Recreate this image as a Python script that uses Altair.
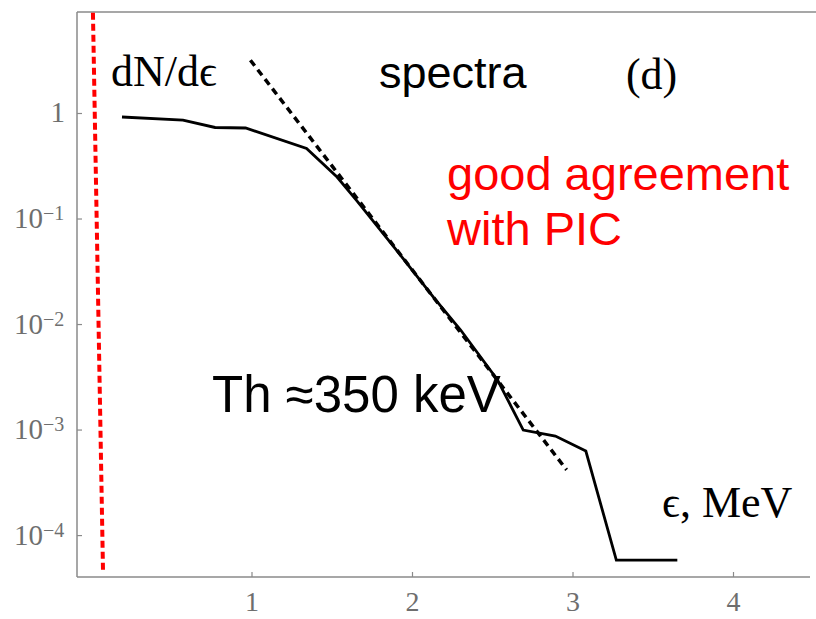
import altair as alt
import pandas as pd

# ---- data ----
energy = [0.19, 0.57, 0.77, 0.96, 1.34, 1.53, 1.65, 1.90, 2.13, 2.30, 2.53, 2.69, 2.89, 3.08, 3.27, 3.65]
dnde = [0.926, 0.867, 0.737, 0.729, 0.466, 0.250, 0.151, 0.0508, 0.0182, 0.00887,
        0.00298, 0.00100, 0.000877, 0.000632, 5.86e-5, 5.86e-5]
fit_energy = [0.99, 2.96]
fit_dnde = [3.2, 4.2e-4]
bound_energy = [0.009, 0.072]
bound_dnde = [9.0, 4.4e-5]
x_ticks = [1, 2, 3, 4]
x_tick_labels = ["1", "2", "3", "4"]
y_ticks = [1, 0.1, 0.01, 0.001, 0.0001]
y_tick_base = ["1", "10", "10", "10", "10"]
y_tick_exp = ["", "\u22121", "\u22122", "\u22123", "\u22124"]

W, H = 739, 565
xs = alt.Scale(domain=[-0.0903, 4.514], nice=False, zero=False)
ys = alt.Scale(type="log", domain=[4.05e-5, 9.16], nice=False)

AX = "#8a8a8a"
LAB = "#6e6e6e"
SERIF = "Liberation Serif"
SANS = "Liberation Sans"

def X(field="x"):
    return alt.X(field, type="quantitative", scale=xs, axis=None)

def Y(field="y"):
    return alt.Y(field, type="quantitative", scale=ys, axis=None)

spec_df = pd.DataFrame({"x": energy, "y": dnde})
fit_df = pd.DataFrame({"x": fit_energy, "y": fit_dnde})
bound_df = pd.DataFrame({"x": bound_energy, "y": bound_dnde})
xt_df = pd.DataFrame({"x": x_ticks, "t": x_tick_labels})
yt_df = pd.DataFrame({"y": y_ticks, "b": y_tick_base, "e": y_tick_exp})

spectrum = alt.Chart(spec_df).mark_line(color="black", strokeWidth=2.8, clip=True).encode(x=X(), y=Y())
fit = alt.Chart(fit_df).mark_line(color="black", strokeWidth=3.5, strokeDash=[7, 5], clip=True).encode(x=X(), y=Y())
bound = alt.Chart(bound_df).mark_line(color="#ff0000", strokeWidth=4, strokeDash=[7, 4], clip=True).encode(x=X(), y=Y())

one = pd.DataFrame({"a": [0]})
left_axis = alt.Chart(one).mark_rule(color=AX, strokeWidth=1.5).encode(
    x=alt.value(0), y=alt.value(0), y2=alt.value(H))
bottom_axis = alt.Chart(one).mark_rule(color=AX, strokeWidth=1.5).encode(
    x=alt.value(0), x2=alt.value(733), y=alt.value(H))
top_frame = alt.Chart(one).mark_rule(color=AX, strokeWidth=1.5).encode(
    x=alt.value(0), x2=alt.value(W), y=alt.value(0))

xtick_marks = alt.Chart(xt_df).mark_rule(color=AX, strokeWidth=1.2).encode(
    x=X(), y=alt.value(H - 5), y2=alt.value(H))
ytick_marks = alt.Chart(yt_df).mark_rule(color=AX, strokeWidth=1.2).encode(
    y=Y(), x=alt.value(0), x2=alt.value(5))

xtick_text = alt.Chart(xt_df).mark_text(font=SERIF, fontSize=28, color=LAB, align="center",
                                        baseline="alphabetic").encode(
    x=X(), y=alt.value(H + 34), text="t:N")
ytick_one = alt.Chart(yt_df[yt_df["b"] == "1"]).mark_text(font=SERIF, fontSize=29, color=LAB, align="right",
                                        baseline="alphabetic", dx=-12, dy=9).encode(
    y=Y(), x=alt.value(0), text="b:N")
ytick_base = alt.Chart(yt_df[yt_df["b"] == "10"]).mark_text(font=SERIF, fontSize=29, color=LAB, align="right",
                                        baseline="alphabetic", dx=-34, dy=9).encode(
    y=Y(), x=alt.value(0), text="b:N")
ytick_exp = alt.Chart(yt_df[yt_df["b"] == "10"]).mark_text(font=SERIF, fontSize=20, color=LAB, align="left",
                                       baseline="alphabetic", dx=-34, dy=1).encode(
    y=Y(), x=alt.value(0), text="e:N")

def label(txt, x, y, font, size, color="black"):
    df = pd.DataFrame({"x": [x], "y": [y], "t": [txt]})
    return alt.Chart(df).mark_text(font=font, fontSize=size, color=color,
                                   align="left", baseline="alphabetic").encode(
        x=X(), y=Y(), text="t:N")

texts = [
    label("dN/d\u03f5", 0.121, 1.82, SERIF, 44),
    label("spectra", 1.791, 1.745, SANS, 45),
    label("(d)", 3.33, 1.70, SERIF, 44),
    label("good agreement", 2.215, 0.188, SANS, 47, color="#ff0000"),
    label("with PIC", 2.215, 0.0567, SANS, 47, color="#ff0000"),
    label("Th \u2248350 keV", 0.751, 0.00148, SANS, 51),
    label("\u03f5, MeV", 3.555, 1.50e-4, SERIF, 44),
]

chart = alt.layer(
    left_axis, bottom_axis, top_frame, xtick_marks, ytick_marks,
    xtick_text, ytick_one, ytick_base, ytick_exp,
    bound, fit, spectrum, *texts
).properties(
    width=W, height=H,
    autosize=alt.AutoSizeParams(type="none"),
    padding={"left": 77, "top": 12, "right": 0, "bottom": 42},
    background="white",
).configure_view(stroke=None)

chart.save("out.html", embed_options={"renderer": "svg", "actions": False})
